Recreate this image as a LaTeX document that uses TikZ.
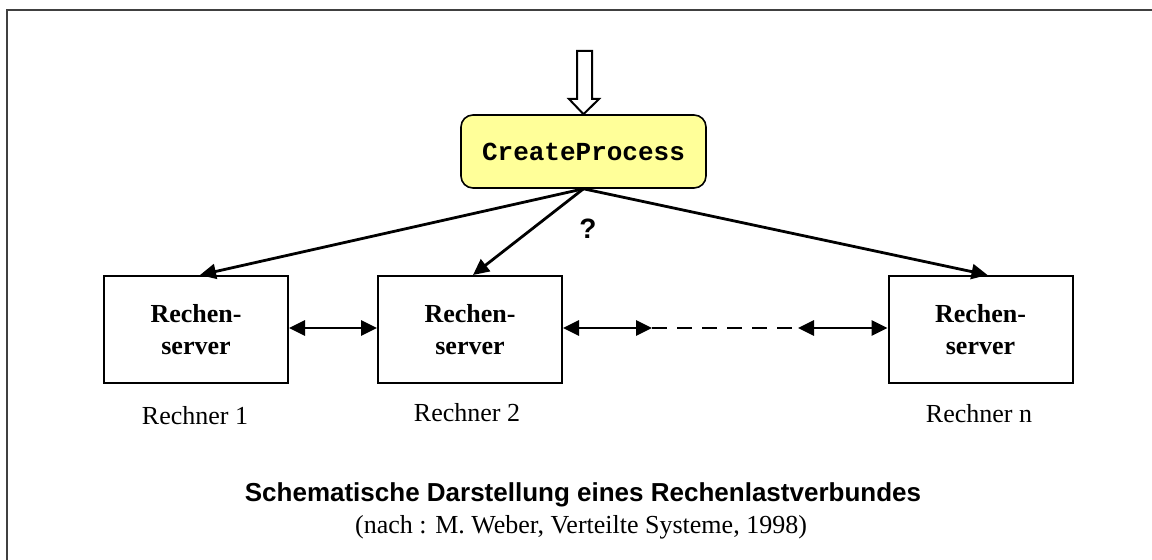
\documentclass[tikz,border=0pt]{standalone}
\usepackage{fontspec}
\setmainfont{Liberation Serif}
\setsansfont{Liberation Sans}
\setmonofont{Liberation Mono}
\usetikzlibrary{arrows.meta,calc}

\definecolor{procfill}{RGB}{255,255,153}
\definecolor{framegray}{RGB}{64,64,64}

\tikzset{
  txt/.style={font=\fontsize{13}{16}\selectfont},
  serverbox/.style={draw=black, line width=1pt, minimum width=92pt, minimum height=53.5pt,
    align=center, inner sep=0pt, font=\fontsize{13}{16}\selectfont\bfseries},
  procbox/.style={draw=black, line width=0.8pt, fill=procfill, rounded corners=6pt,
    minimum width=122.5pt, minimum height=36.5pt, inner sep=0pt,
    font=\fontsize{13}{16}\selectfont\ttfamily\bfseries},
  tip/.style={Triangle[length=8pt,width=7.5pt]},
  conn/.style={line width=1.4pt, -{Triangle[length=8pt,width=7.5pt]}},
  biconn/.style={line width=1.4pt, {Triangle[length=8pt,width=7.5pt]}-{Triangle[length=8pt,width=7.5pt]}},
  gap/.style={line width=1.4pt, dash pattern=on 7.5pt off 5pt},
}

\begin{document}
\begin{tikzpicture}[x=0.5pt,y=-0.5pt]
  \useasboundingbox (0,0) rectangle (1152,560);

  % frame on top and left side
  \draw[framegray, line width=1pt] (7,560) -- (7,10) -- (1152,10);

  % process node and incoming hollow arrow
  \node[procbox] (cp) at (583.5,151.5) {CreateProcess};
  \draw[line width=1pt, fill=white, line join=miter] (577,51) -- (592,51) -- (592,99) -- (599,99)
    -- (cp.north) -- (569,99) -- (577,99) -- cycle;

  % compute servers
  \node[serverbox] (b1) at (196,329.5) {Rechen-\\server};
  \node[serverbox] (b2) at (470,329.5) {Rechen-\\server};
  \node[serverbox] (bn) at (980.5,329.5) {Rechen-\\server};

  % host labels
  \node[txt] (l1) at (195,416) {Rechner 1};
  \node[txt] (l2) at (467,413) {Rechner 2};
  \node[txt] (ln) at (979,414) {Rechner n};

  % assignment connectors
  \draw[conn] (cp.south) -- ([xshift=2pt]b1.north);
  \draw[conn] (cp.south) -- ([xshift=1.5pt]b2.north);
  \draw[conn] (cp.south) -- ([xshift=3.5pt]bn.north);
  \node[font=\fontsize{14}{16}\selectfont\sffamily\bfseries] (q) at (588,229) {?};

  % links between servers
  \coordinate (d1) at (652,328);
  \coordinate (d2) at (798,328);
  \draw[biconn] ([yshift=0.75pt]b1.east) -- ([yshift=0.75pt]b2.west);
  \draw[biconn] ([yshift=0.75pt]b2.east) -- (d1);
  \draw[gap] (d1) -- (d2);
  \draw[biconn] (d2) -- ([yshift=0.75pt]bn.west);

  % caption
  \node[font=\fontsize{13}{16}\selectfont\sffamily\bfseries] (cap) at (583,495)
    {Schematische Darstellung eines Rechenlastverbundes};
  \node[txt] (src) at (581,527) {(nach : M. Weber, Verteilte Systeme, 1998)};
\end{tikzpicture}
\end{document}
